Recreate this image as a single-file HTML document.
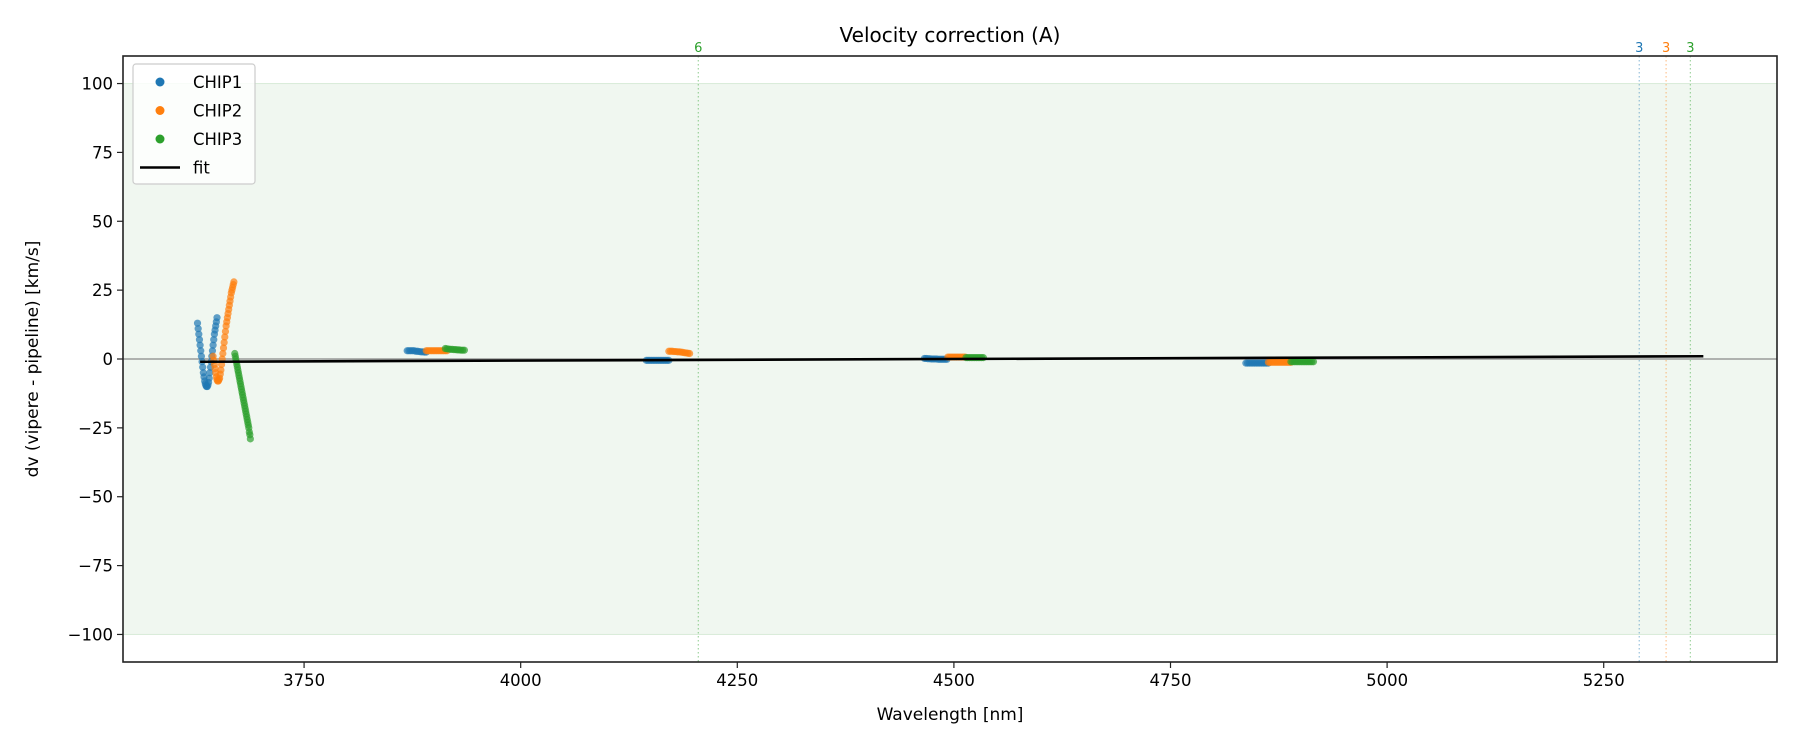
<!DOCTYPE html>
<html><head><meta charset="utf-8">
<style>
html,body{margin:0;padding:0;background:#fff;}
svg{display:block;font-family:"DejaVu Sans","Liberation Sans",sans-serif;}
</style></head>
<body>
<svg id="chart" width="1800" height="750" viewBox="0 0 1800 750">
  <g id="plot"></g>
</svg>
<script>
// ---- data ----
const xTicks = [3750, 4000, 4250, 4500, 4750, 5000, 5250];
const yTicks = [-100, -75, -50, -25, 0, 25, 50, 75, 100];
const yTickLabels = ["\u2212100", "\u221275", "\u221250", "\u221225", "0", "25", "50", "75", "100"];
const chip1Wl = [3627,3627.75,3628.5,3629.25,3630,3630.75,3631.5,3632.25,3633,3633.75,3634.5,3635.25,3636,3636.75,3637.5,3638.25,3639,3639.75,3640.5,3641.25,3642,3642.75,3643.5,3644.25,3645,3645.75,3646.5,3647.25,3648,3648.75,3649.5,
  3869,3871,3873,3875,3877,3879,3881,3883,3885,3887,3889,3891,
  4145,4147,4149,4151,4153,4155,4157,4159,4161,4163,4165,4167,4169,4171,
  4466,4468,4470,4472,4474,4476,4478,4480,4482,4484,4486,4488,4490,4492,
  4837,4839,4841,4843,4845,4847,4849,4851,4853,4855,4857,4859,4861,4863];
const chip1Dv = [13,11,9,7,5,3,1,-1,-3,-5,-6.5,-8,-9,-9.7,-10,-10,-9.5,-8.5,-7,-5,-3,-1,1,3,5,7,9,10.5,12,13.5,15,
  3,3,3,3,3,2.8,2.8,2.7,2.6,2.6,2.5,2.5,
  -0.5,-0.5,-0.5,-0.5,-0.5,-0.5,-0.5,-0.5,-0.5,-0.5,-0.5,-0.5,-0.5,-0.5,
  0.2,0.2,0.1,0.1,0,0,0,0,-0.1,-0.1,-0.1,-0.1,-0.1,-0.1,
  -1.5,-1.5,-1.5,-1.5,-1.5,-1.5,-1.5,-1.5,-1.5,-1.5,-1.5,-1.5,-1.5,-1.5];
const chip2Wl = [3645,3645.75,3646.5,3647.25,3648,3648.75,3649.5,3650.25,3651,3651.75,3652.5,3653.25,3654,3654.75,3655.5,3656.25,3657,3657.75,3658.5,3659.25,3660,3660.75,3661.5,3662.25,3663,3663.75,3664.5,3665.25,3666,3666.75,3667.5,3668.25,3669,
  3891,3893,3895,3897,3899,3901,3903,3905,3907,3909,3911,3913,3915,
  4171,4173,4175,4177,4179,4181,4183,4185,4187,4189,4191,4193,4195,
  4493,4495,4497,4499,4501,4503,4505,4507,4509,4511,4513,
  4863,4865,4867,4869,4871,4873,4875,4877,4879,4881,4883,4885,4887,4889];
const chip2Dv = [1,-0.5,-2,-3.5,-5,-6.5,-7.5,-8,-8,-7.5,-7,-5.5,-4,-2,0,2,4,6,8,10,12,13.5,15,16.5,18,19.5,21,22.5,24,25,26,27,28,
  3,3,3,3,3,3,3,3,3,3,3,3,3,
  2.8,2.8,2.8,2.7,2.7,2.6,2.6,2.5,2.4,2.3,2.2,2.1,2,
  0.7,0.7,0.7,0.7,0.7,0.7,0.7,0.7,0.7,0.7,0.7,
  -1.2,-1.2,-1.2,-1.2,-1.2,-1.2,-1.2,-1.2,-1.2,-1.2,-1.2,-1.2,-1.2,-1.2];
const chip3Wl = [3670,3670.6,3671.2,3671.8,3672.4,3673,3673.6,3674.2,3674.8,3675.4,3676,3676.6,3677.2,3677.8,3678.4,3679,3679.6,3680.2,3680.8,3681.4,3682,3682.6,3683.2,3683.8,3684.4,3685,3685.6,3686.2,3686.8,3687.4,3688,
  3913,3915,3917,3919,3921,3923,3925,3927,3929,3931,3933,3935,
  4514,4516,4518,4520,4522,4524,4526,4528,4530,4532,4534,
  4889,4891,4893,4895,4897,4899,4901,4903,4905,4907,4909,4911,4913,4915];
const chip3Dv = [2,1,0,-1,-2,-3,-4,-5,-6,-7,-8,-9,-10,-11,-12,-13,-14,-15,-16,-17,-18,-19,-20,-21,-22,-23,-24,-25,-26.5,-27.5,-29,
  3.8,3.7,3.6,3.5,3.5,3.4,3.4,3.3,3.3,3.2,3.2,3.2,
  0.5,0.5,0.5,0.5,0.5,0.5,0.5,0.5,0.5,0.5,0.5,
  -1,-1,-1,-1,-1,-1,-1,-1,-1,-1,-1,-1,-1,-1];
const fitWl = [3630, 5365];
const fitDv = [-1.0, 1.0];
const markerWl = [4205, 5291, 5322, 5350];
const markerLabels = ["6", "3", "3", "3"];
const markerColors = ["#2ca02c", "#1f77b4", "#ff7f0e", "#2ca02c"];
const bandLimits = [-100, 100];

// ---- layout ----
const L = 123, R = 1777, T = 56, B = 662;
const xMin = 3541, xMax = 5450, yMin = -110, yMax = 110;
const X = v => L + (v - xMin) / (xMax - xMin) * (R - L);
const Y = v => B - (v - yMin) / (yMax - yMin) * (B - T);
const NS = "http://www.w3.org/2000/svg";
const g = document.getElementById('plot');
function mk(tag, attrs, parent) {
  const e = document.createElementNS(NS, tag);
  for (const k in attrs) e.setAttribute(k, attrs[k]);
  (parent || g).appendChild(e);
  return e;
}

let band = mk('rect', {x: L, y: Y(bandLimits[1]), width: R - L, height: Y(bandLimits[0]) - Y(bandLimits[1]), fill: '#f0f7f0', stroke: '#d8ecd8', 'stroke-width': 1});



let zl = mk('line', {x1: L, x2: R, y1: Y(0), y2: Y(0), stroke: '#888', 'stroke-width': 1.2});



markerWl.forEach((w, i) => {
  const ln = mk('line', {x1: X(w), x2: X(w), y1: T, y2: B, stroke: markerColors[i], 'stroke-opacity': 0.45, 'stroke-width': 1.2, 'stroke-dasharray': '1.5,2.5'});
  
  
  const t = mk('text', {x: X(w), y: T - 4, 'text-anchor': 'middle', 'font-size': 13, fill: markerColors[i]});
  t.textContent = markerLabels[i];
  
  
});

function scatter(wl, dv, color, name) {
  const sg = mk('g', {fill: color, 'fill-opacity': 0.7});
  
  
  wl.forEach((w, i) => {
    const c = mk('circle', {cx: X(w), cy: Y(dv[i]), r: 3.6}, sg);
    
    
  });
}
scatter(chip1Wl, chip1Dv, '#1f77b4', 'chip1-series');
scatter(chip2Wl, chip2Dv, '#ff7f0e', 'chip2-series');
scatter(chip3Wl, chip3Dv, '#2ca02c', 'chip3-series');

let fit = mk('line', {x1: X(fitWl[0]), y1: Y(fitDv[0]), x2: X(fitWl[1]), y2: Y(fitDv[1]), stroke: '#000', 'stroke-width': 2.6});



let fr = mk('rect', {x: L, y: T, width: R - L, height: B - T, fill: 'none', stroke: '#222', 'stroke-width': 1.6});



xTicks.forEach(v => {
  const tl = mk('line', {x1: X(v), x2: X(v), y1: B, y2: B + 6, stroke: '#222', 'stroke-width': 1.2});
  
  
  const t = mk('text', {x: X(v), y: B + 24, 'text-anchor': 'middle', 'font-size': 16.5, fill: '#000'});
  t.textContent = v;
  
  
});
yTicks.forEach((v, i) => {
  const tl = mk('line', {x1: L - 6, x2: L, y1: Y(v), y2: Y(v), stroke: '#222', 'stroke-width': 1.2});
  
  
  const t = mk('text', {x: L - 10, y: Y(v) + 6, 'text-anchor': 'end', 'font-size': 16.5, fill: '#000'});
  t.textContent = yTickLabels[i];
  
  
});

let tt = mk('text', {x: (L + R) / 2, y: 42, 'text-anchor': 'middle', 'font-size': 20, fill: '#000'});
tt.textContent = 'Velocity correction (A)';


let xt = mk('text', {x: (L + R) / 2, y: 720, 'text-anchor': 'middle', 'font-size': 17, fill: '#000'});
xt.textContent = 'Wavelength [nm]';


let yt = mk('text', {x: 0, y: 0, 'text-anchor': 'middle', 'font-size': 17, fill: '#000', transform: `translate(38,${(T + B) / 2}) rotate(-90)`});
yt.textContent = 'dv (vipere - pipeline) [km/s]';



const lg = mk('g', {});


mk('rect', {x: 133, y: 64, width: 122, height: 120, rx: 3, fill: '#fff', 'fill-opacity': 0.8, stroke: '#ccc', 'stroke-width': 1.2}, lg);
const legNames = ['CHIP1', 'CHIP2', 'CHIP3', 'fit'];
const legColors = ['#1f77b4', '#ff7f0e', '#2ca02c', '#000'];
legNames.forEach((n, i) => {
  const cy = 82 + i * 28.5;
  const eg = mk('g', {}, lg);
  
  
  if (i < 3) mk('circle', {cx: 160, cy: cy, r: 4.5, fill: legColors[i]}, eg);
  else mk('line', {x1: 140, x2: 180, y1: cy, y2: cy, stroke: '#000', 'stroke-width': 2.6}, eg);
  const t = mk('text', {x: 193, y: cy + 6, 'font-size': 16.5, fill: '#000'}, eg);
  t.textContent = n;
});
</script>
</body></html>
